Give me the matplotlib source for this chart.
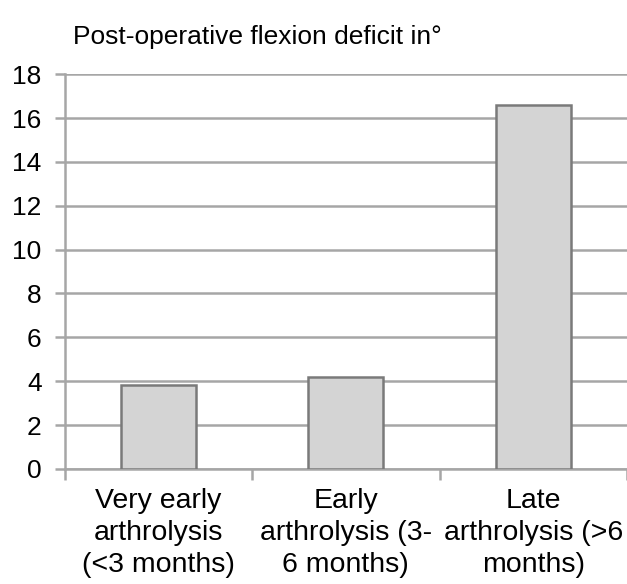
import matplotlib
matplotlib.use("Agg")
import matplotlib.pyplot as plt

categories = ["Very early\narthrolysis\n(<3 months)", "Early\narthrolysis (3-\n6 months)", "Late\narthrolysis (>6\nmonths)"]
values = [3.85, 4.2, 16.6]
yticks = [0, 2, 4, 6, 8, 10, 12, 14, 16, 18]
title = "Post-operative flexion deficit in°"

plt.rcParams['font.family'] = ['Liberation Sans', 'DejaVu Sans']

fig = plt.figure(figsize=(6.27, 5.84), dpi=100)
ax = fig.add_axes([0.103, 0.197, 0.897, 0.676])
x = list(range(len(categories)))
ax.bar(x, values, width=0.4, color="#d4d4d4", edgecolor="#7a7a7a", linewidth=1.8, zorder=3)
ax.set_xlim(-0.5, 2.5)
ax.set_ylim(0, 18)
ax.set_yticks(yticks)
ax.set_yticklabels([str(t) for t in yticks], fontsize=19)
ax.yaxis.grid(True, color="#a6a6a6", linewidth=1.8, zorder=0)
ax.set_axisbelow(True)
for s in ["top", "right"]:
    ax.spines[s].set_visible(False)
for s in ["left", "bottom"]:
    ax.spines[s].set_color("#a6a6a6")
    ax.spines[s].set_linewidth(1.8)
ax.set_xticks([-0.5, 0.5, 1.5, 2.5], minor=False)
ax.set_xticklabels([])
ax.set_xticks(x, minor=True)
ax.set_xticklabels(categories, minor=True, fontsize=20.5, linespacing=1.28)
ax.tick_params(axis='x', which='minor', length=0, pad=14)
ax.tick_params(axis='x', which='major', length=8, width=1.8, color="#a6a6a6")
ax.tick_params(axis='y', length=7, width=1.8, color="#a6a6a6", pad=9.5)
fig.text(0.117, 0.937, title, fontsize=19, ha="left", va="center")
fig.savefig("out.png", dpi=100)
